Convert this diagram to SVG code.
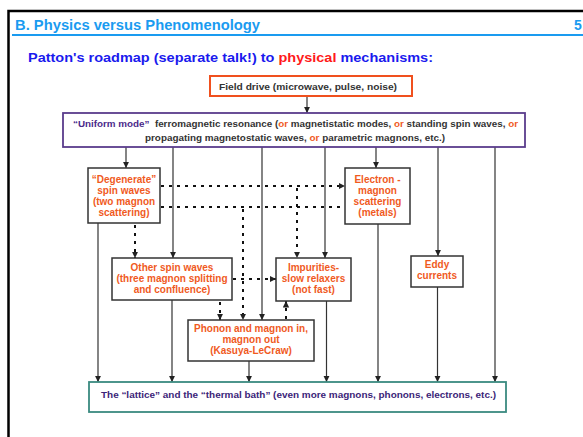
<svg xmlns="http://www.w3.org/2000/svg" width="583" height="437" viewBox="0 0 583 437">
<defs>
<style>
text{font-family:"Liberation Sans",Arial,sans-serif;font-weight:bold}
.hd{font-size:14px;fill:#1a9bf0}
.sub{font-size:13px;fill:#1a1aee}
.red{fill:#ff1a1a}
.g{font-size:9px;fill:#333333}
.or{fill:#f05a1e}
.um{fill:#4b2a8a}
.o{font-size:10px;fill:#f05a1e;text-anchor:middle}
.box{fill:#ffffff;stroke:#333333;stroke-width:1.5}
.ln{fill:none;stroke:#333333;stroke-width:1.2}
.dt{fill:none;stroke:#111111;stroke-width:2;stroke-dasharray:3,5}
</style>
<marker id="ah" markerUnits="userSpaceOnUse" markerWidth="7" markerHeight="7" refX="6.5" refY="3.5" orient="auto">
<path d="M0,0.3 L6.5,3.5 L0,6.7 z" fill="#222222"/>
</marker>
</defs>
<rect width="583" height="437" fill="#ffffff"/>
<rect x="8.5" y="11" width="600" height="460" fill="none" stroke="#000000" stroke-width="2.5"/>
<text x="15" y="29.5" class="hd" textLength="245" lengthAdjust="spacingAndGlyphs">B.  Physics versus Phenomenology</text>
<text x="574" y="29.5" class="hd">5</text>
<line x1="12" y1="35" x2="583" y2="35" stroke="#1a9bf0" stroke-width="2"/>
<text x="28" y="62" class="sub" textLength="405" lengthAdjust="spacingAndGlyphs">Patton's roadmap (separate talk!) to <tspan class="red">physical</tspan> mechanisms:</text>

<g id="connectors">
<line class="ln" x1="307" y1="96" x2="307" y2="113" marker-end="url(#ah)"/>
<line class="ln" x1="126" y1="147" x2="126" y2="168" marker-end="url(#ah)"/>
<line class="ln" x1="173" y1="147" x2="173" y2="258" marker-end="url(#ah)"/>
<line class="ln" x1="262" y1="147" x2="262" y2="320" marker-end="url(#ah)"/>
<line class="ln" x1="325" y1="147" x2="325" y2="258" marker-end="url(#ah)"/>
<line class="ln" x1="376" y1="147" x2="376" y2="168" marker-end="url(#ah)"/>
<line class="ln" x1="438" y1="147" x2="438" y2="256" marker-end="url(#ah)"/>
<line class="ln" x1="495" y1="147" x2="495" y2="382" marker-end="url(#ah)"/>
<line class="ln" x1="98" y1="223" x2="98" y2="382" marker-end="url(#ah)"/>
<line class="ln" x1="172" y1="300" x2="172" y2="382" marker-end="url(#ah)"/>
<line class="ln" x1="249" y1="361" x2="249" y2="382" marker-end="url(#ah)"/>
<line class="ln" x1="326.5" y1="301" x2="326.5" y2="382" marker-end="url(#ah)"/>
<line class="ln" x1="378" y1="224" x2="378" y2="382" marker-end="url(#ah)"/>
<line class="ln" x1="437.5" y1="287" x2="437.5" y2="382" marker-end="url(#ah)"/>
<line class="dt" x1="161" y1="186" x2="345" y2="186" marker-end="url(#ah)"/>
<line class="dt" x1="161" y1="207" x2="345" y2="207"/>
<line class="dt" x1="297" y1="188" x2="297" y2="258" marker-end="url(#ah)"/>
<line class="dt" x1="243" y1="209" x2="243" y2="320" marker-end="url(#ah)"/>
<line class="dt" x1="135" y1="225" x2="135" y2="258" marker-end="url(#ah)"/>
<line class="dt" x1="233" y1="279" x2="276" y2="279" marker-end="url(#ah)"/>
<line class="dt" x1="220" y1="302" x2="220" y2="320" marker-end="url(#ah)"/>
<line class="dt" x1="286" y1="319" x2="286" y2="301" marker-end="url(#ah)"/>
</g>

<g id="field-drive">
<rect x="210" y="76" width="202" height="20" fill="#ffffff" stroke="#f0501e" stroke-width="2"/>
<text x="219" y="90" class="g" textLength="178" lengthAdjust="spacingAndGlyphs">Field drive (microwave, pulse, noise)</text>
</g>

<g id="uniform-mode">
<rect x="63" y="113" width="462" height="34" fill="#ffffff" stroke="#5a3c8c" stroke-width="1.8"/>
<text x="73" y="127" class="g" textLength="445" lengthAdjust="spacingAndGlyphs"><tspan class="um">“Uniform mode”</tspan>&#160;&#160;ferromagnetic resonance (<tspan class="or">or</tspan> magnetistatic modes, <tspan class="or">or</tspan> standing spin waves, <tspan class="or">or</tspan></text>
<text x="145" y="141" class="g" textLength="300" lengthAdjust="spacingAndGlyphs">propagating magnetostatic waves, <tspan class="or">or</tspan> parametric magnons, etc.)</text>
</g>

<g id="degenerate">
<rect class="box" x="88" y="168" width="72" height="55"/>
<text class="o" x="124" y="183">“Degenerate”</text>
<text class="o" x="124" y="194">spin waves</text>
<text class="o" x="124" y="205">(two magnon</text>
<text class="o" x="124" y="216">scattering)</text>
</g>

<g id="electron-magnon">
<rect class="box" x="345" y="168" width="65" height="56"/>
<text class="o" x="377.5" y="183">Electron -</text>
<text class="o" x="377.5" y="194">magnon</text>
<text class="o" x="377.5" y="205">scattering</text>
<text class="o" x="377.5" y="216">(metals)</text>
</g>

<g id="other-spin-waves">
<rect class="box" x="112" y="258" width="120" height="42"/>
<text class="o" x="172" y="271">Other spin waves</text>
<text class="o" x="172" y="282">(three magnon splitting</text>
<text class="o" x="172" y="293">and confluence)</text>
</g>

<g id="impurities">
<rect class="box" x="276" y="258" width="75" height="43"/>
<text class="o" x="313.5" y="271">Impurities-</text>
<text class="o" x="313.5" y="282">slow relaxers</text>
<text class="o" x="313.5" y="293">(not fast)</text>
</g>

<g id="eddy">
<rect class="box" x="411" y="256" width="52" height="31"/>
<text class="o" x="437" y="268">Eddy</text>
<text class="o" x="437" y="279">currents</text>
</g>

<g id="phonon">
<rect class="box" x="188" y="320" width="126" height="41"/>
<text class="o" x="251" y="332">Phonon and magnon in,</text>
<text class="o" x="251" y="343">magnon out</text>
<text class="o" x="251" y="354">(Kasuya-LeCraw)</text>
</g>

<g id="lattice">
<rect x="89" y="382" width="417" height="30" fill="#ffffff" stroke="#3a8a80" stroke-width="1.8"/>
<text x="101" y="398" font-size="9" fill="#3b2478" textLength="395" lengthAdjust="spacingAndGlyphs">The “lattice” and the “thermal bath” (even more magnons, phonons, electrons, etc.)</text>
</g>
</svg>
